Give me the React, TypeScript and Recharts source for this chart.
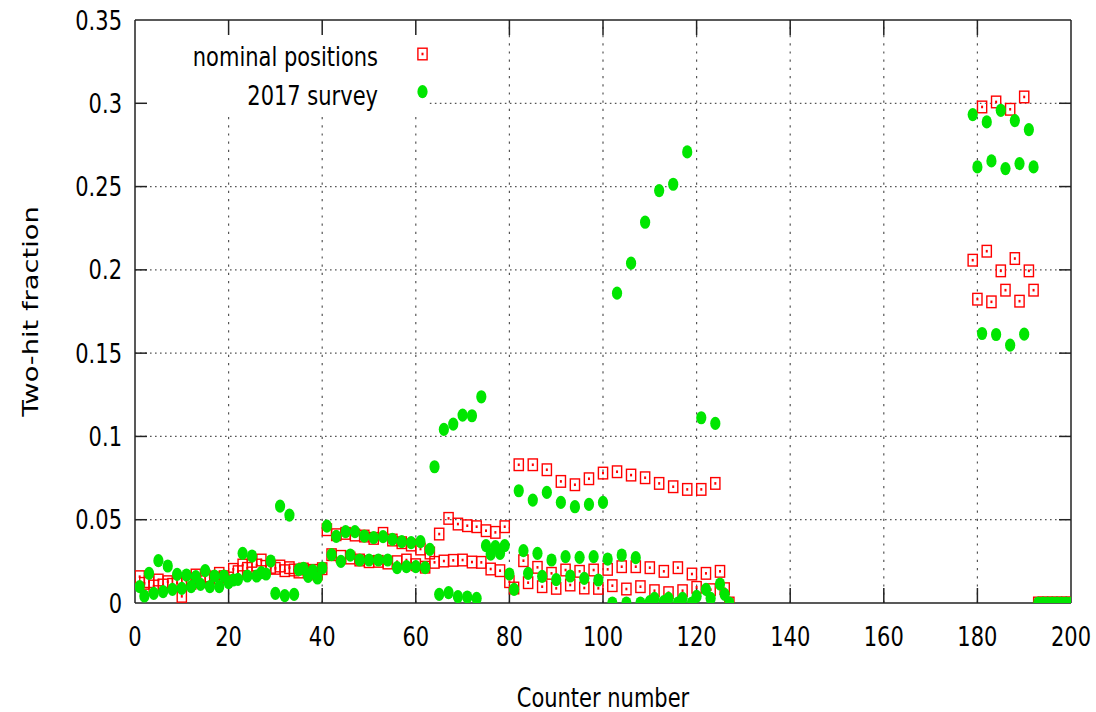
import { ScatterChart, Scatter, XAxis, YAxis, ReferenceLine, Legend } from "recharts";

const NOMINAL_NAME = "nominal positions";
const SURVEY_NAME = "2017 survey";

const xTicks = [0, 20, 40, 60, 80, 100, 120, 140, 160, 180, 200];
const yTicks = [0, 0.05, 0.1, 0.15, 0.2, 0.25, 0.3, 0.35];

// counters 1..127
const INNER_FIRST = 1;
const innerNominal = [
  0.0158, 0.0118, 0.0128, 0.0102, 0.0138, 0.0108, 0.0128, 0.0112, 0.0122, 0.004,
  0.0132, 0.0118, 0.0168, 0.0128, 0.0162, 0.0156, 0.015, 0.0178, 0.0158, 0.015,
  0.0202, 0.0188, 0.0228, 0.0208, 0.025, 0.0228, 0.0258, 0.022, 0.0214, 0.0208,
  0.0222, 0.0194, 0.0212, 0.0198, 0.0186, 0.0204, 0.0188, 0.0196, 0.0174, 0.0206,
  0.044, 0.029, 0.041, 0.028, 0.0418, 0.027, 0.0408, 0.0258, 0.0402, 0.0248,
  0.0388, 0.025, 0.0418, 0.024, 0.0378, 0.0248, 0.0362, 0.0258, 0.0348, 0.023,
  0.0324, 0.0215, 0.03, 0.0244, 0.0414, 0.0252, 0.0508, 0.0256, 0.0474, 0.0258,
  0.0464, 0.0246, 0.0458, 0.0244, 0.0434, 0.0204, 0.0424, 0.0194, 0.0458, 0.0128,
  0.009, 0.083, 0.0254, 0.0122, 0.083, 0.0214, 0.0098, 0.08, 0.0178, 0.0088,
  0.073, 0.0198, 0.0108, 0.071, 0.019, 0.009, 0.0746, 0.0198, 0.0088, 0.078,
  0.0202, 0.0104, 0.0788, 0.0218, 0.0084, 0.0768, 0.0218, 0.0098, 0.0752, 0.0212,
  0.0074, 0.0718, 0.019, 0.0062, 0.0698, 0.0212, 0.0074, 0.0682, 0.0174, 0.0094,
  0.0682, 0.0178, 0.008, 0.0718, 0.019, 0.0086, 0,
];
const innerSurvey = [
  0.0098, 0.0042, 0.0178, 0.0058, 0.0254, 0.0068, 0.0222, 0.0082, 0.0172, 0.0088,
  0.0168, 0.0098, 0.0158, 0.0112, 0.0194, 0.0098, 0.0162, 0.0098, 0.0162, 0.0122,
  0.0138, 0.0142, 0.0298, 0.0162, 0.0282, 0.0162, 0.0182, 0.0174, 0.0252, 0.0058,
  0.0582, 0.0044, 0.0528, 0.0052, 0.02, 0.0208, 0.016, 0.0194, 0.015, 0.021,
  0.0462, 0.029, 0.04, 0.025, 0.0428, 0.0288, 0.0428, 0.0258, 0.0402, 0.0258,
  0.0392, 0.0258, 0.0398, 0.0258, 0.0382, 0.0212, 0.0368, 0.0218, 0.0362, 0.0218,
  0.0368, 0.0212, 0.0322, 0.0818, 0.0052, 0.1042, 0.0062, 0.1074, 0.0038, 0.1128,
  0.0036, 0.1124, 0.0028, 0.1238, 0.0344, 0.0294, 0.0338, 0.0298, 0.0344, 0.0174,
  0.0082, 0.0674, 0.0314, 0.0178, 0.0618, 0.0298, 0.016, 0.0664, 0.0258, 0.014,
  0.0604, 0.0278, 0.0162, 0.0578, 0.0274, 0.0148, 0.0592, 0.0278, 0.0138, 0.0604,
  0.0264, 0, 0.186, 0.0288, 0, 0.204, 0.0272, 0, 0.2286, 0.0008,
  0.0028, 0.2476, 0.0008, 0.0028, 0.2514, 0, 0.0028, 0.2708, 0, 0.004,
  0.1112, 0.0082, 0.0028, 0.1078, 0.0114, 0.0052, 0,
];

// counters 179..200
const OUTER_FIRST = 179;
const outerNominal = [
  0.2058, 0.1824, 0.2978, 0.2112, 0.1808, 0.3008, 0.1994, 0.1878, 0.2964, 0.2068,
  0.1812, 0.3038, 0.1994, 0.1878, 0, 0, 0, 0, 0, 0, 0, 0,
];
const outerSurvey = [
  0.2932, 0.2618, 0.1618, 0.2888, 0.2654, 0.1612, 0.2958, 0.2608, 0.1548, 0.2896,
  0.2638, 0.1614, 0.2842, 0.2618, 0, 0, 0, 0, 0, 0, 0, 0,
];

const toPoints = (first: number, values: number[]) =>
  values.map((v, i) => ({ counter: first + i, value: v }));

const nominalData = [...toPoints(INNER_FIRST, innerNominal), ...toPoints(OUTER_FIRST, outerNominal)];
const surveyData = [...toPoints(INNER_FIRST, innerSurvey), ...toPoints(OUTER_FIRST, outerSurvey)];

const FONT = '"DejaVu Sans", Verdana, sans-serif';
const STRETCH = 1.3;
const RED = "#ff0000";
const GREEN = "#00e600";
const GRID = "#555";
const AXIS = "#222";

function NominalMark(props: any) {
  const { cx, cy } = props;
  if (cx == null || cy == null) return null;
  return (
    <g>
      <rect x={cx - 4.6} y={cy - 5.8} width={9.2} height={11.6} fill="none" stroke={RED} strokeWidth={1.4} />
      <rect x={cx - 1} y={cy - 1.3} width={2} height={2.6} fill={RED} />
    </g>
  );
}

function SurveyMark(props: any) {
  const { cx, cy } = props;
  if (cx == null || cy == null) return null;
  return <ellipse cx={cx} cy={cy} rx={5.1} ry={6.6} fill={GREEN} />;
}

function Stretched({ x, y, anchor, rotate, children }: any) {
  return (
    <text
      transform={`translate(${x},${y}) scale(1,${STRETCH})${rotate ? ` rotate(${rotate})` : ""}`}
      textAnchor={anchor}
      dominantBaseline="central"
      fontSize={21}
      fontFamily={FONT}
      fill="#000"
    >
      {children}
    </text>
  );
}

const YTick = (props: any) => (
  <Stretched x={props.x} y={props.y} anchor="end">
    {String(props.payload.value)}
  </Stretched>
);

const XTick = (props: any) => (
  <Stretched x={props.x} y={props.y} anchor="middle">
    {String(props.payload.value)}
  </Stretched>
);

function Key({ payload }: any) {
  const order = [NOMINAL_NAME, SURVEY_NAME];
  const names = order.filter((n) => (payload ?? []).some((p: any) => p.value === n));
  return (
    <svg width={440} height={120} style={{ display: "block" }}>
      {names.map((name) => {
        const nominal = name === NOMINAL_NAME;
        const ty = nominal ? 56 : 95;
        const sy = nominal ? 54 : 91.7;
        return (
          <g key={name}>
            <Stretched x={378} y={ty} anchor="end">
              {name}
            </Stretched>
            {nominal ? <NominalMark cx={422.5} cy={sy} /> : <SurveyMark cx={422.5} cy={sy} />}
          </g>
        );
      })}
    </svg>
  );
}

// gnuplot-style grid: the key area top-left is left blank
const hGrid = yTicks.filter((v) => v > 0 && v < 0.35);
const vGrid = xTicks.filter((v) => v > 0 && v < 200);
const KEY_RIGHT = 63;
const KEY_BOTTOM = 0.295;
const X_TICK_LEN = 0.009;
const Y_TICK_LEN = 2.56;

export default function App() {
  return (
    <div style={{ position: "absolute", left: 0, top: 0, background: "#fff" }}>
      <ScatterChart width={1096} height={712} margin={{ top: 20, right: 25, bottom: 49, left: 35 }}>
        <XAxis
          type="number"
          dataKey="counter"
          domain={[0, 200]}
          ticks={xTicks}
          allowDataOverflow
          height={60}
          tickSize={0}
          tickMargin={33}
          tickLine={false}
          axisLine={{ stroke: AXIS, strokeWidth: 1.5 }}
          tick={XTick}
          label={({ viewBox }: any) => (
            <Stretched x={viewBox.x + viewBox.width / 2} y={697} anchor="middle">
              Counter number
            </Stretched>
          )}
        />
        <YAxis
          type="number"
          dataKey="value"
          domain={[0, 0.35]}
          ticks={yTicks}
          allowDataOverflow
          width={100}
          tickSize={0}
          tickMargin={13}
          tickLine={false}
          axisLine={{ stroke: AXIS, strokeWidth: 1.5 }}
          tick={YTick}
          label={({ viewBox }: any) => (
            <Stretched x={31} y={viewBox.y + viewBox.height / 2} anchor="middle" rotate={-90}>
              Two-hit fraction
            </Stretched>
          )}
        />
        {hGrid.map((v) => (
          <ReferenceLine
            key={`hg${v}`}
            segment={[{ x: v === 0.3 ? KEY_RIGHT : 0, y: v }, { x: 200, y: v }]}
            stroke={GRID}
            strokeWidth={1.2}
            strokeDasharray="1.6 3.4"
          />
        ))}
        {vGrid.map((v) => (
          <ReferenceLine
            key={`vg${v}`}
            segment={[{ x: v, y: 0 }, { x: v, y: v < KEY_RIGHT ? KEY_BOTTOM : 0.35 }]}
            stroke={GRID}
            strokeWidth={1.2}
            strokeDasharray="2.2 6"
          />
        ))}
        {hGrid.map((v) => (
          <ReferenceLine key={`yl${v}`} segment={[{ x: 0, y: v }, { x: Y_TICK_LEN, y: v }]} stroke={AXIS} strokeWidth={1.5} />
        ))}
        {hGrid.map((v) => (
          <ReferenceLine key={`yr${v}`} segment={[{ x: 200 - Y_TICK_LEN, y: v }, { x: 200, y: v }]} stroke={AXIS} strokeWidth={1.5} />
        ))}
        {vGrid.map((v) => (
          <ReferenceLine key={`xb${v}`} segment={[{ x: v, y: 0 }, { x: v, y: X_TICK_LEN }]} stroke={AXIS} strokeWidth={1.5} />
        ))}
        {vGrid.map((v) => (
          <ReferenceLine key={`xt${v}`} segment={[{ x: v, y: 0.35 - X_TICK_LEN }, { x: v, y: 0.35 }]} stroke={AXIS} strokeWidth={1.5} />
        ))}
        <ReferenceLine y={0.35} stroke={AXIS} strokeWidth={1.5} />
        <ReferenceLine x={200} stroke={AXIS} strokeWidth={1.5} />
        <Legend
          layout="vertical"
          align="center"
          verticalAlign="middle"
          wrapperStyle={{ left: 0, top: 0, width: 440, height: 120 }}
          content={Key}
        />
        <Scatter name={NOMINAL_NAME} data={nominalData} fill={RED} shape={NominalMark} isAnimationActive={false} />
        <Scatter name={SURVEY_NAME} data={surveyData} fill={GREEN} shape={SurveyMark} isAnimationActive={false} />
      </ScatterChart>
    </div>
  );
}
